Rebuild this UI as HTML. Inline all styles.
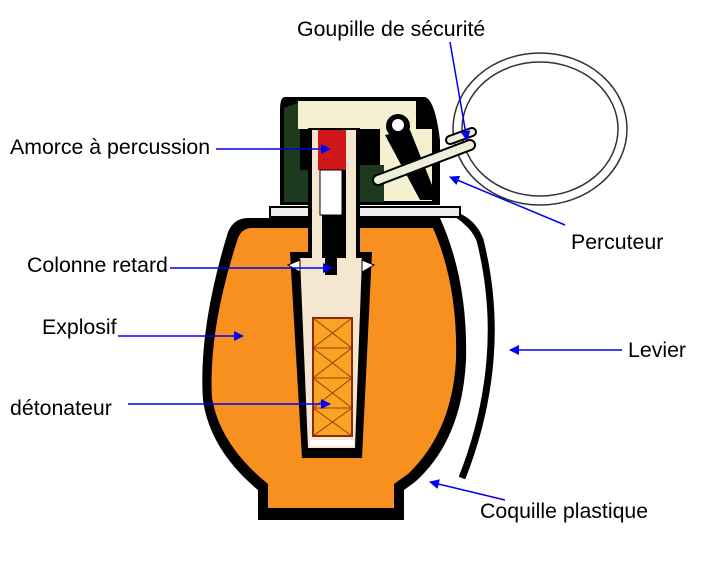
<!DOCTYPE html>
<html><head><meta charset="utf-8"><style>
html,body{margin:0;padding:0;background:#fff;}
svg{display:block;}
text{font-family:"Liberation Sans",sans-serif;font-size:21.3px;fill:#000;}
</style></head><body>
<svg width="712" height="562" viewBox="0 0 712 562" xmlns="http://www.w3.org/2000/svg">
<defs>
<marker id="a" markerWidth="10" markerHeight="10" refX="9" refY="5" orient="auto" markerUnits="userSpaceOnUse"><path d="M0,0 L10,5 L0,10 z" fill="#0000ee"/></marker>
</defs>
<ellipse cx="540" cy="129" rx="87" ry="76" fill="none" stroke="#333" stroke-width="1.5"/>
<ellipse cx="540" cy="129" rx="78" ry="67" fill="none" stroke="#333" stroke-width="1.5"/>
<path d="M440,212 Q470,215 480,240 Q495,300 490,360 Q485,420 462,478" fill="none" stroke="#000" stroke-width="7"/>
<path d="M446,214 Q468,222 475,245 Q486,300 482,360" fill="none" stroke="#fff" stroke-width="2"/>
<path d="M248,218 L440,218 Q468,280 466,360 Q462,440 415,482 L404,490 L404,520 L258,520 L258,490 Q210,450 203,400 Q198,330 228,232 Q234,218 248,218 Z" fill="#000"/>
<path d="M252,228 L433,228 Q458,285 456,360 Q452,432 408,474 L394,484 L394,508 L268,508 L268,484 Q220,445 212,398 Q208,330 238,238 Q242,228 252,228 Z" fill="#f7901e"/>
<path d="M290,252 L372,252 L362,458 L302,458 Z" fill="#000"/>
<path d="M300,258 L362,258 L355,448 L308,448 Z" fill="#f5e6cf"/>
<rect x="310" y="440" width="44" height="6" fill="#fff"/>
<rect x="313" y="318" width="39" height="118" fill="#f7a623" stroke="#8b2a10" stroke-width="2"/>
<g stroke="#b03010" stroke-width="1"><line x1="313" y1="348" x2="352" y2="348"/><line x1="313" y1="378" x2="352" y2="378"/><line x1="313" y1="408" x2="352" y2="408"/>
<line x1="313" y1="318" x2="352" y2="348"/><line x1="352" y1="318" x2="313" y2="348"/><line x1="313" y1="348" x2="352" y2="378"/><line x1="352" y1="348" x2="313" y2="378"/><line x1="313" y1="378" x2="352" y2="408"/><line x1="352" y1="378" x2="313" y2="408"/><line x1="313" y1="408" x2="352" y2="436"/><line x1="352" y1="408" x2="313" y2="436"/></g>
<rect x="270" y="207" width="190" height="10" fill="#eeeeee" stroke="#000" stroke-width="2"/>
<path d="M285,97 L425,97 Q435,100 440,140 L440,205 L280,205 L280,110 Q280,97 285,97 Z" fill="#000"/>
<path d="M284,108 L300,102 L300,202 L284,202 Z" fill="#1d3a1f"/>
<rect x="298" y="101" width="118" height="28" fill="#f5f1d0"/>
<rect x="380" y="129" width="52" height="72" fill="#f5f1d0"/>
<rect x="358" y="165" width="26" height="37" fill="#1d3a1f"/>
<rect x="300" y="170" width="10" height="32" fill="#1d3a1f"/>
<circle cx="398" cy="126" r="12" fill="#000"/><circle cx="398" cy="125" r="6" fill="#fff"/>
<path d="M385,135 L420,200 L438,200 L410,130 Z" fill="#000"/>
<rect x="308" y="128" width="52" height="130" fill="#000"/>
<rect x="312" y="130" width="10" height="130" fill="#f5e6cf"/>
<rect x="346" y="130" width="10" height="130" fill="#f5e6cf"/>
<rect x="318" y="130" width="28" height="40" fill="#d01818"/>
<rect x="320" y="170" width="22" height="45" fill="#fff" stroke="#000"/>
<rect x="325" y="215" width="12" height="60" fill="#000"/>
<path d="M288,265 L300,260 L300,272 Z M362,260 L374,265 L362,272 Z" fill="#fff" stroke="#000"/>
<path d="M378,180 L470,145" stroke="#000" stroke-width="12" stroke-linecap="round"/>
<path d="M378,180 L470,145" stroke="#eeeedd" stroke-width="8" stroke-linecap="round"/>
<path d="M450,140 L472,132" stroke="#000" stroke-width="10" stroke-linecap="round"/>
<path d="M450,140 L472,132" stroke="#eeeedd" stroke-width="6" stroke-linecap="round"/>
<text x="297" y="36">Goupille de sécurité</text>
<text x="10" y="154">Amorce à percussion</text>
<text x="571" y="249">Percuteur</text>
<text x="27" y="272">Colonne retard</text>
<text x="42" y="334">Explosif</text>
<text x="628" y="357">Levier</text>
<text x="10" y="415">détonateur</text>
<text x="480" y="518">Coquille plastique</text>
<g stroke="#0000ee" stroke-width="1.5" fill="none">
<line x1="450" y1="42" x2="467" y2="140" marker-end="url(#a)"/>
<line x1="216" y1="149" x2="330" y2="149" marker-end="url(#a)"/>
<line x1="565" y1="225" x2="450" y2="177" marker-end="url(#a)"/>
<line x1="170" y1="268" x2="332" y2="268" marker-end="url(#a)"/>
<line x1="118" y1="336" x2="243" y2="336" marker-end="url(#a)"/>
<line x1="622" y1="350" x2="510" y2="350" marker-end="url(#a)"/>
<line x1="128" y1="404" x2="330" y2="404" marker-end="url(#a)"/>
<line x1="505" y1="500" x2="430" y2="482" marker-end="url(#a)"/>
</g>
</svg>
</body></html>
